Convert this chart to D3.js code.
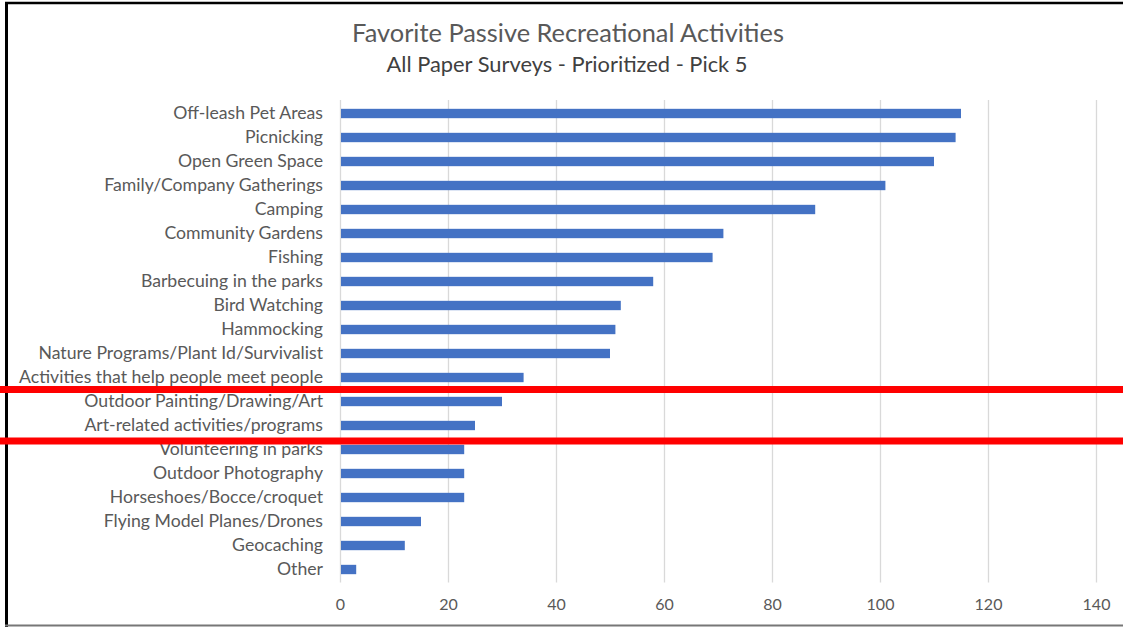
<!DOCTYPE html>
<html>
<head>
<meta charset="utf-8">
<script src="https://cdn.jsdelivr.net/npm/d3@7"></script>
<style>
  html, body { margin: 0; padding: 0; background: #fff; }
  svg { display: block; }
  text { font-family: Lato, "Open Sans", sans-serif; }
</style>
</head>
<body>
<svg id="chart" width="1123" height="627"></svg>
<script>
const titleText = "Favorite Passive Recreational Activities";
const subtitleText = "All Paper Surveys - Prioritized - Pick 5";
const categories = [
  "Off-leash Pet Areas",
  "Picnicking ",
  "Open Green Space",
  "Family/Company Gatherings",
  "Camping",
  "Community Gardens",
  "Fishing",
  "Barbecuing in the parks",
  "Bird Watching",
  "Hammocking",
  "Nature Programs/Plant Id/Survivalist",
  "Activities that help people meet people",
  "Outdoor Painting/Drawing/Art",
  "Art-related activities/programs",
  "Volunteering in parks",
  "Outdoor Photography ",
  "Horseshoes/Bocce/croquet",
  "Flying Model Planes/Drones",
  "Geocaching ",
  "Other"
];
const values = [115, 114, 110, 101, 88, 71, 69, 58, 52, 51, 50, 34, 30, 25, 23, 23, 23, 15, 12, 3];
const tickValues = [0, 20, 40, 60, 80, 100, 120, 140];
// red highlight rules drawn on the original, placed below these categories
const highlightAfter = ["Activities that help people meet people", "Art-related activities/programs"];

const svg = d3.select("#chart");
const W = 1123, H = 627;

// frame
svg.append("line").attr("x1", 6.5).attr("x2", 6.5).attr("y1", 2).attr("y2", 627)
  .attr("stroke", "#000").attr("stroke-width", 3);
svg.append("line").attr("x1", 5).attr("x2", W).attr("y1", 3).attr("y2", 3)
  .attr("stroke", "#000").attr("stroke-width", 2.5);
svg.append("line").attr("x1", 5).attr("x2", W).attr("y1", 625.5).attr("y2", 625.5)
  .attr("stroke", "#777").attr("stroke-width", 2);

const x = d3.scaleLinear().domain([0, 140]).range([340, 1096]);
const y = d3.scaleBand().domain(categories).range([101.5, 581.5]).paddingInner(0.61).paddingOuter(0.305);

// gridlines
svg.append("g").selectAll("line").data(tickValues).join("line")
  .attr("x1", d => x(d) + 0.5).attr("x2", d => x(d) + 0.5)
  .attr("y1", 100).attr("y2", 582.5)
  .attr("stroke", "#d9d9d9").attr("stroke-width", 1.3);

// bars
svg.append("g").selectAll("rect").data(categories).join("rect")
  .attr("x", x(0) + 1)
  .attr("y", d => y(d))
  .attr("width", (d, i) => x(values[i]) - x(0) - 1)
  .attr("height", y.bandwidth())
  .attr("fill", "#4472C4");

// x axis labels
const xAxis = d3.axisBottom(x).tickValues(tickValues).tickSize(0).tickPadding(0);
const gx = svg.append("g").attr("transform", "translate(0,599)").call(xAxis);
gx.select(".domain").remove();
gx.selectAll("text").attr("fill", "#595959").style("font-size", "16px")
  .style("font-family", "Lato, sans-serif").attr("dy", "0.71em");

// y axis labels
const yAxis = d3.axisLeft(y).tickSize(0).tickPadding(0);
const gy = svg.append("g").attr("transform", "translate(323,0)").call(yAxis);
gy.select(".domain").remove();
gy.selectAll("text").attr("fill", "#595959").style("font-family", "Lato, sans-serif");

// fit label font so the longest label spans like the original (~304px)
let fs = 16;
gy.selectAll("text").style("font-size", fs + "px");
const longest = gy.selectAll("text").filter(d => d === "Activities that help people meet people").node();
const w0 = longest.getComputedTextLength();
fs = fs * 304 / w0;
gy.selectAll("text").style("font-size", fs + "px");

// titles
function fitText(sel, target) {
  const w = sel.node().getComputedTextLength();
  const cur = parseFloat(sel.style("font-size"));
  sel.style("font-size", (cur * target / w) + "px");
}
const t1 = svg.append("text").attr("x", 568).attr("y", 42).attr("text-anchor", "middle")
  .attr("fill", "#595959").style("font-size", "22px").text(titleText);
fitText(t1, 432);
const t2 = svg.append("text").attr("x", 567).attr("y", 72).attr("text-anchor", "middle")
  .attr("fill", "#404040").style("font-size", "18px").text(subtitleText);
fitText(t2, 361);

// red highlight rules, between a category and the next one
const midBelow = d => y(d) + y.bandwidth() + (y.step() - y.bandwidth()) / 2;
svg.append("g").selectAll("line").data(highlightAfter).join("line")
  .attr("x1", 0).attr("x2", W)
  .attr("y1", (d, i) => midBelow(d) + (i === 0 ? 0 : 3.5))
  .attr("y2", (d, i) => midBelow(d) + (i === 0 ? 0 : 3.5))
  .attr("stroke", "#ff0000").attr("stroke-width", 7);
</script>
</body>
</html>
